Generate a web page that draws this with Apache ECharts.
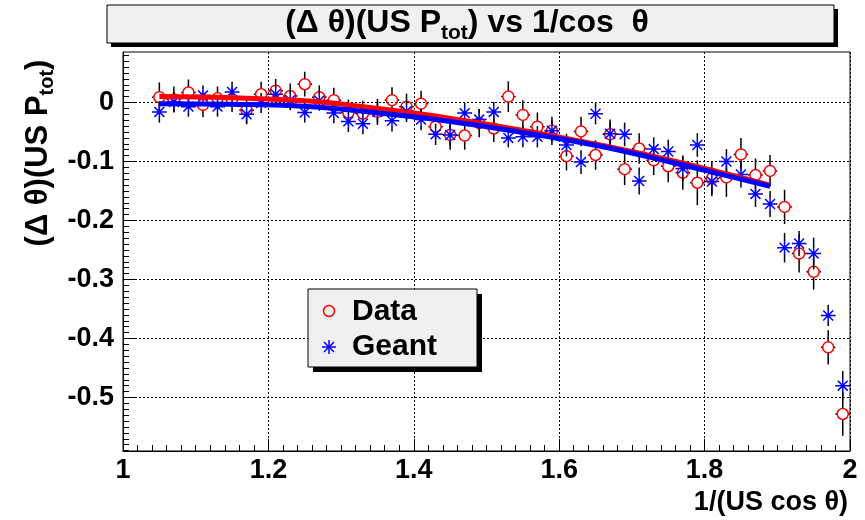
<!DOCTYPE html>
<html>
<head>
<meta charset="utf-8">
<script src="https://cdn.jsdelivr.net/npm/echarts@6/dist/echarts.min.js"></script>
<style>
  html, body { margin: 0; padding: 0; background: #ffffff; }
  #chart { width: 865px; height: 520px; }
</style>
</head>
<body>
<div id="chart"></div>
<script>
// Bin centres of 1/(US cos theta)
const binX = [1.05, 1.07, 1.09, 1.11, 1.13, 1.15, 1.17, 1.19, 1.21, 1.23, 1.25, 1.27,
  1.29, 1.31, 1.33, 1.35, 1.37, 1.39, 1.41, 1.43, 1.45, 1.47, 1.49, 1.51,
  1.53, 1.55, 1.57, 1.59, 1.61, 1.63, 1.65, 1.67, 1.69, 1.71, 1.73, 1.75,
  1.77, 1.79, 1.81, 1.83, 1.85, 1.87, 1.89, 1.91, 1.93, 1.95, 1.97, 1.99];

// Data profile: mean and error per bin
const dataY = [0.009, 0.005, 0.017, -0.004, 0.007, 0.005, -0.013, 0.014, 0.020, 0.011, 0.031, 0.009,
  0.004, -0.017, -0.019, -0.016, 0.004, -0.007, -0.002, -0.041, -0.055, -0.056, -0.035, -0.044,
  0.010, -0.021, -0.041, -0.048, -0.091, -0.049, -0.089, -0.054, -0.113, -0.078, -0.098, -0.108,
  -0.119, -0.136, -0.129, -0.127, -0.088, -0.123, -0.116, -0.177, -0.256, -0.287, -0.415, -0.528];
const dataErr = [0.025, 0.022, 0.022, 0.021, 0.020, 0.021, 0.022, 0.021, 0.020, 0.021, 0.021, 0.020,
  0.021, 0.022, 0.022, 0.022, 0.022, 0.022, 0.022, 0.021, 0.025, 0.024, 0.024, 0.023,
  0.026, 0.025, 0.024, 0.024, 0.024, 0.025, 0.025, 0.025, 0.027, 0.026, 0.025, 0.027,
  0.029, 0.038, 0.030, 0.033, 0.028, 0.028, 0.027, 0.029, 0.032, 0.030, 0.029, 0.037];

// Geant profile: mean and error per bin
const geantY = [-0.016, 0.001, -0.007, 0.012, -0.007, 0.018, -0.020, -0.001, 0.014, 0.004, -0.017, 0.003,
  -0.018, -0.032, -0.036, -0.016, -0.031, -0.015, -0.029, -0.054, -0.055, -0.018, -0.029, -0.016,
  -0.060, -0.058, -0.058, -0.048, -0.072, -0.101, -0.019, -0.053, -0.054, -0.133, -0.079, -0.083,
  -0.112, -0.072, -0.134, -0.100, -0.122, -0.155, -0.172, -0.246, -0.239, -0.256, -0.361, -0.480];
const geantErr = [0.018, 0.017, 0.017, 0.017, 0.017, 0.017, 0.017, 0.017, 0.017, 0.017, 0.017, 0.017,
  0.017, 0.018, 0.018, 0.018, 0.018, 0.018, 0.018, 0.018, 0.018, 0.018, 0.018, 0.017,
  0.016, 0.018, 0.018, 0.018, 0.019, 0.020, 0.018, 0.019, 0.020, 0.023, 0.020, 0.020,
  0.021, 0.020, 0.021, 0.021, 0.022, 0.022, 0.022, 0.025, 0.021, 0.027, 0.018, 0.025];

// Fitted curves, sampled along the fit range
const dataFitX = [1.05, 1.15, 1.26, 1.33, 1.42, 1.50, 1.58, 1.66, 1.75, 1.82, 1.89];
const dataFitY = [0.010, 0.008, 0.002, -0.007, -0.021, -0.037, -0.054, -0.073, -0.097, -0.118, -0.140];
const geantFitX = [1.05, 1.15, 1.26, 1.33, 1.42, 1.50, 1.58, 1.66, 1.75, 1.82, 1.89];
const geantFitY = [-0.002, -0.003, -0.007, -0.015, -0.027, -0.041, -0.057, -0.075, -0.100, -0.121, -0.142];

// Axis ticks
const xTicks = [1, 1.2, 1.4, 1.6, 1.8, 2];
const yTicks = [0, -0.1, -0.2, -0.3, -0.4, -0.5];
const binHalfWidth = 0.01;

const FONT = '"Liberation Sans", Arial, Helvetica, sans-serif';
const RED = '#ff0000';
const BLUE = '#0000ff';

const yMin = -0.5907, yMax = 0.0856;
const yMinor = [];
for (let i = -59; i <= 8; i++) yMinor.push(i / 100);

function zipPoints(xs, ys, es) {
  return xs.map((x, i) => es ? [x, ys[i], es[i]] : [x, ys[i]]);
}

// Error bars with the marker region left open
function errorBars(gap) {
  return function (params, api) {
    const x = api.value(0), y = api.value(1), e = api.value(2);
    const c = api.coord([x, y]);
    const top = api.coord([x, y + e]);
    const bot = api.coord([x, y - e]);
    const left = api.coord([x - binHalfWidth, y]);
    const right = api.coord([x + binHalfWidth, y]);
    const segs = [];
    if (top[1] < c[1] - gap) segs.push([c[0], top[1], c[0], c[1] - gap]);
    if (bot[1] > c[1] + gap) segs.push([c[0], c[1] + gap, c[0], bot[1]]);
    if (left[0] < c[0] - gap) segs.push([left[0], c[1], c[0] - gap, c[1]]);
    if (right[0] > c[0] + gap) segs.push([c[0] + gap, c[1], right[0], c[1]]);
    return {
      type: 'group',
      children: segs.map(s => ({
        type: 'line',
        shape: { x1: s[0], y1: s[1], x2: s[2], y2: s[3] },
        style: { stroke: '#000', lineWidth: 1.5 }
      }))
    };
  };
}

const starPath = 'path://M5,0L5,10M0,5L10,5M1.46,1.46L8.54,8.54M1.46,8.54L8.54,1.46';

// Boxed panel with a solid drop shadow
function panel(x, y, w, h, off) {
  return [
    { type: 'rect', shape: { x: x + off, y: y + off, width: w, height: h }, style: { fill: '#000' }, z: 10 },
    { type: 'rect', shape: { x: x, y: y, width: w, height: h }, style: { fill: '#f0f0f0', stroke: '#000', lineWidth: 1 }, z: 10 }
  ];
}

function starLines(cx, cy, r) {
  const d = r * 0.72;
  return [[0, -r, 0, r], [-r, 0, r, 0], [-d, -d, d, d], [-d, d, d, -d]].map(s => ({
    type: 'line', z: 11,
    shape: { x1: cx + s[0], y1: cy + s[1], x2: cx + s[2], y2: cy + s[3] },
    style: { stroke: BLUE, lineWidth: 1.5 }
  }));
}

const chart = echarts.init(document.getElementById('chart'), null, { renderer: 'canvas' });

const subTitle = { fontSize: 21, fontWeight: 'bold', fontFamily: FONT, fill: '#000', padding: [20, 0, 0, 0] };
const subAxis = { fontSize: 20, fontWeight: 'bold', fontFamily: FONT, fill: '#000', padding: [19, 0, 0, 0] };

const option = {
  backgroundColor: '#ffffff',
  animation: false,
  grid: {
    left: 123, top: 52, width: 727, height: 399,
    show: true, borderColor: '#000', borderWidth: 1, backgroundColor: 'transparent'
  },
  xAxis: {
    type: 'value', min: 1, max: 2, interval: 0.2,
    axisLine: { show: true, onZero: false, lineStyle: { color: '#000', width: 1 } },
    axisTick: { show: true, inside: true, length: 12, lineStyle: { color: '#000', width: 1 } },
    minorTick: { show: true, splitNumber: 10, length: 6, lineStyle: { color: '#000', width: 1 } },
    axisLabel: {
      color: '#000', fontFamily: FONT, fontWeight: 'bold', fontSize: 27, margin: 6,
      formatter: v => String(Math.round(v * 10) / 10)
    },
    splitLine: { show: true, lineStyle: { color: '#000', width: 1, type: [2, 2] } }
  },
  yAxis: [{
    type: 'value', min: yMin, max: yMax,
    axisLine: { show: true, onZero: false, lineStyle: { color: '#000', width: 1 } },
    axisTick: { show: true, inside: true, length: 12, customValues: yTicks, lineStyle: { color: '#000', width: 1 } },
    axisLabel: {
      customValues: yTicks, color: '#000', fontFamily: FONT, fontWeight: 'bold', fontSize: 27, margin: 9,
      formatter: v => (Math.abs(v) < 1e-9 ? '0' : String(Math.round(v * 10) / 10))
    },
    splitLine: { show: true, lineStyle: { color: '#000', width: 1, type: [2, 2] } }
  }, {
    type: 'value', min: yMin, max: yMax, position: 'left',
    axisLine: { show: false },
    axisTick: { show: true, inside: true, length: 6, customValues: yMinor, lineStyle: { color: '#000', width: 1 } },
    axisLabel: { show: false },
    splitLine: { show: false }
  }],
  series: [
    {
      name: 'DataErr', type: 'custom', renderItem: errorBars(5.5),
      data: zipPoints(binX, dataY, dataErr), z: 2, silent: true
    },
    {
      name: 'Data', type: 'scatter', data: zipPoints(binX, dataY),
      symbol: 'circle', symbolSize: 11,
      itemStyle: { color: 'rgba(0,0,0,0)', borderColor: RED, borderWidth: 1.5, opacity: 1 },
      z: 3
    },
    {
      name: 'GeantErr', type: 'custom', renderItem: errorBars(6.5),
      data: zipPoints(binX, geantY, geantErr), z: 4, silent: true
    },
    {
      name: 'Geant', type: 'scatter', data: zipPoints(binX, geantY),
      symbol: starPath, symbolSize: 14,
      itemStyle: { color: 'rgba(0,0,0,0)', borderColor: BLUE, borderWidth: 1.5, opacity: 1 },
      z: 5
    },
    {
      name: 'DataFit', type: 'line', data: zipPoints(dataFitX, dataFitY),
      smooth: 0.4, showSymbol: false, lineStyle: { color: RED, width: 5 }, z: 6, silent: true
    },
    {
      name: 'GeantFit', type: 'line', data: zipPoints(geantFitX, geantFitY),
      smooth: 0.4, showSymbol: false, lineStyle: { color: BLUE, width: 5 }, z: 7, silent: true
    }
  ],
  graphic: [].concat(
    panel(107, 5, 727, 38, 4),
    [{
      type: 'text', x: 467, y: 23, z: 11,
      style: {
        text: '(Δ θ)(US P{sub|tot}) vs 1/cos  θ',
        fill: '#000', font: 'bold 32px ' + FONT, align: 'center', verticalAlign: 'middle',
        rich: { sub: subTitle }
      }
    },
    {
      type: 'text', x: 38, y: 153, rotation: Math.PI / 2, z: 11,
      style: {
        text: '(Δ θ)(US P{sub|tot})',
        fill: '#000', font: 'bold 31px ' + FONT, align: 'center', verticalAlign: 'middle',
        rich: { sub: subAxis }
      }
    },
    {
      type: 'text', x: 848, y: 503, z: 11,
      style: { text: '1/(US cos θ)', fill: '#000', font: 'bold 27px ' + FONT, align: 'right', verticalAlign: 'middle' }
    }],
    panel(308, 289, 169, 78, 5),
    [{
      type: 'circle', shape: { cx: 329, cy: 311, r: 5.5 },
      style: { fill: null, stroke: RED, lineWidth: 1.5 }, z: 11
    }],
    starLines(329, 347, 7),
    [{
      type: 'text', x: 352, y: 312, z: 11,
      style: { text: 'Data', fill: '#000', font: 'bold 30px ' + FONT, align: 'left', verticalAlign: 'middle' }
    },
    {
      type: 'text', x: 352, y: 347, z: 11,
      style: { text: 'Geant', fill: '#000', font: 'bold 30px ' + FONT, align: 'left', verticalAlign: 'middle' }
    }]
  )
};

chart.setOption(option);
</script>
</body>
</html>
